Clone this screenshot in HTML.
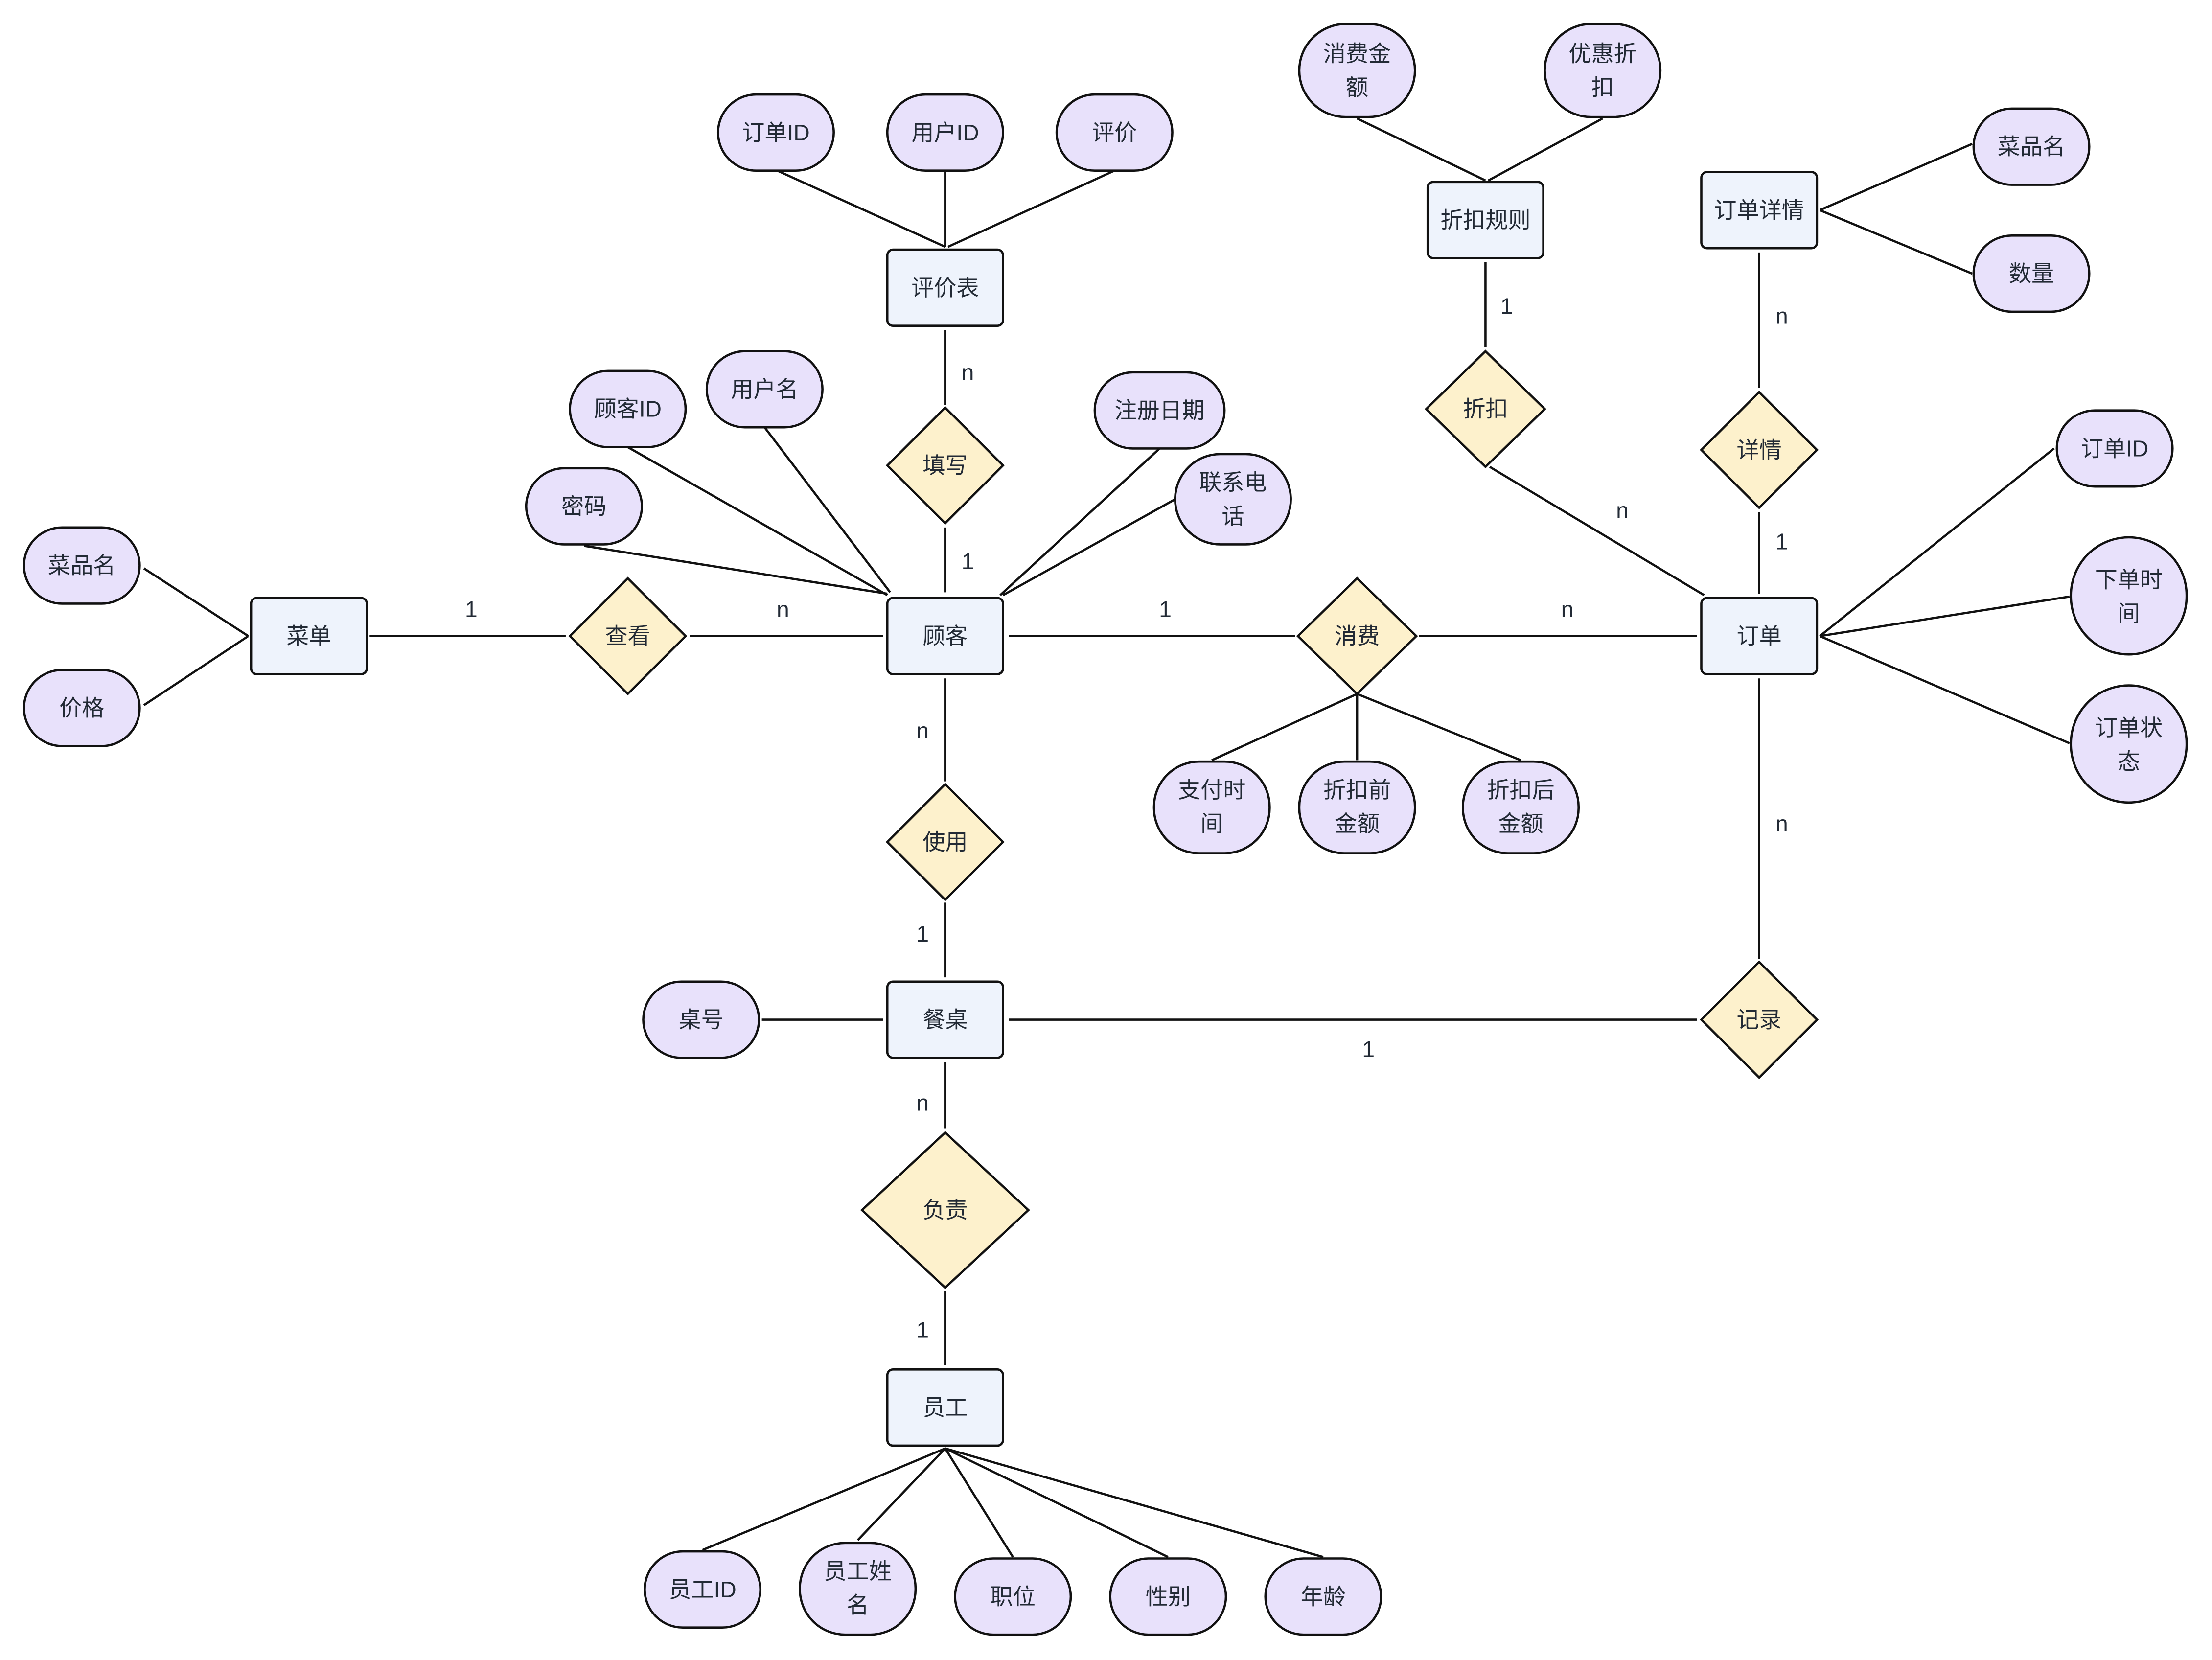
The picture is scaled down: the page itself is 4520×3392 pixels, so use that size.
<!DOCTYPE html>
<html><head><meta charset="utf-8"><style>
html,body{margin:0;padding:0;background:#fff;width:4520px;height:3392px;overflow:hidden}
svg{display:block}
text{font-family:"Liberation Sans","Noto Sans CJK SC",sans-serif;font-size:16px;fill:#222a35;text-anchor:middle;dominant-baseline:central}
.e{fill:#eef3fc;stroke:#111;stroke-width:1.6}
.a{fill:#e8e1fb;stroke:#111;stroke-width:1.6}
.d{fill:#fdf1cc;stroke:#111;stroke-width:1.6}
line{stroke:#111;stroke-width:1.6}
</style></head><body>
<svg width="4520" height="3392" viewBox="0 0 1568 1177" preserveAspectRatio="none" xmlns="http://www.w3.org/2000/svg">
<!-- lines -->
<g>
<line x1="551" y1="121" x2="670" y2="175"/><line x1="670" y1="121" x2="670" y2="175"/><line x1="790" y1="121" x2="672" y2="175"/>
<line x1="962" y1="84" x2="1053" y2="128"/><line x1="1136" y1="84" x2="1055" y2="128"/>
<line x1="1290" y1="149" x2="1398" y2="102"/><line x1="1290" y1="149" x2="1398" y2="194"/>
<line x1="445" y1="317" x2="629" y2="422"/><line x1="542" y1="303" x2="631" y2="420"/><line x1="414" y1="387" x2="629" y2="421"/>
<line x1="822" y1="318" x2="709" y2="422"/><line x1="833" y1="354" x2="711" y2="422"/>
<line x1="102" y1="403" x2="176" y2="451"/><line x1="102" y1="500" x2="176" y2="451"/>
<line x1="1456" y1="318" x2="1290" y2="451"/><line x1="1467" y1="423" x2="1290" y2="451"/><line x1="1467" y1="527" x2="1290" y2="451"/>
<line x1="962" y1="492" x2="859" y2="539"/><line x1="962" y1="492" x2="962" y2="539"/><line x1="962" y1="492" x2="1078" y2="539"/>
<line x1="670" y1="1027" x2="498" y2="1099"/><line x1="670" y1="1027" x2="608" y2="1092"/><line x1="670" y1="1027" x2="718" y2="1104"/><line x1="670" y1="1027" x2="828" y2="1104"/><line x1="670" y1="1027" x2="938" y2="1104"/>
<line x1="540" y1="723" x2="626" y2="723"/>
<line x1="262" y1="451" x2="401" y2="451"/><line x1="489" y1="451" x2="626" y2="451"/>
<line x1="715" y1="451" x2="918" y2="451"/><line x1="1006" y1="451" x2="1203" y2="451"/>
<line x1="670" y1="234" x2="670" y2="287"/><line x1="670" y1="374" x2="670" y2="420"/>
<line x1="1053" y1="186" x2="1053" y2="246"/><line x1="1056" y1="331" x2="1208" y2="422"/>
<line x1="1247" y1="179" x2="1247" y2="275"/><line x1="1247" y1="363" x2="1247" y2="421"/>
<line x1="670" y1="481" x2="670" y2="554"/><line x1="670" y1="640" x2="670" y2="693"/>
<line x1="715" y1="723" x2="1203" y2="723"/><line x1="1247" y1="481" x2="1247" y2="680"/>
<line x1="670" y1="753" x2="670" y2="800"/><line x1="670" y1="915" x2="670" y2="968"/>
</g>
<!-- cardinality labels -->
<text x="334" y="432">1</text><text x="555" y="432">n</text>
<text x="826" y="432">1</text><text x="1111" y="432">n</text>
<text x="686" y="264">n</text><text x="686" y="398">1</text>
<text x="1068" y="217">1</text><text x="1150" y="362">n</text>
<text x="1263" y="224">n</text><text x="1263" y="384">1</text>
<text x="654" y="518">n</text><text x="654" y="662">1</text>
<text x="970" y="744">1</text><text x="1263" y="584">n</text>
<text x="654" y="782">n</text><text x="654" y="943">1</text>
<!-- entities -->
<g>
<rect class="e" x="178" y="424" width="82" height="54" rx="4"/><text x="219" y="451">菜单</text>
<rect class="e" x="629" y="424" width="82" height="54" rx="4"/><text x="670" y="451">顾客</text>
<rect class="e" x="629" y="177" width="82" height="54" rx="4"/><text x="670" y="204">评价表</text>
<rect class="e" x="1012" y="129" width="82" height="54" rx="4"/><text x="1053" y="156">折扣规则</text>
<rect class="e" x="1206" y="122" width="82" height="54" rx="4"/><text x="1247" y="149">订单详情</text>
<rect class="e" x="1206" y="424" width="82" height="54" rx="4"/><text x="1247" y="451">订单</text>
<rect class="e" x="629" y="696" width="82" height="54" rx="4"/><text x="670" y="723">餐桌</text>
<rect class="e" x="629" y="971" width="82" height="54" rx="4"/><text x="670" y="998">员工</text>
</g>
<!-- diamonds -->
<g>
<polygon class="d" points="445,410 486,451 445,492 404,451"/><text x="445" y="451">查看</text>
<polygon class="d" points="670,289 711,330 670,371 629,330"/><text x="670" y="330">填写</text>
<polygon class="d" points="962,410 1004,451 962,492 920,451"/><text x="962" y="451">消费</text>
<polygon class="d" points="1053,249 1095,290 1053,331 1011,290"/><text x="1053" y="290">折扣</text>
<polygon class="d" points="1247,278 1288,319 1247,360 1206,319"/><text x="1247" y="319">详情</text>
<polygon class="d" points="670,556 711,597 670,638 629,597"/><text x="670" y="597">使用</text>
<polygon class="d" points="1247,682 1288,723 1247,764 1206,723"/><text x="1247" y="723">记录</text>
<polygon class="d" points="670,803 729,858 670,913 611,858"/><text x="670" y="858">负责</text>
</g>
<!-- attributes single line -->
<g>
<rect class="a" x="509" y="67" width="82" height="54" rx="27"/><text x="550" y="94">订单ID</text>
<rect class="a" x="629" y="67" width="82" height="54" rx="27"/><text x="670" y="94">用户ID</text>
<rect class="a" x="749" y="67" width="82" height="54" rx="27"/><text x="790" y="94">评价</text>
<rect class="a" x="1399" y="77" width="82" height="54" rx="27"/><text x="1440" y="104">菜品名</text>
<rect class="a" x="1399" y="167" width="82" height="54" rx="27"/><text x="1440" y="194">数量</text>
<rect class="a" x="404" y="263" width="82" height="54" rx="27"/><text x="445" y="290">顾客ID</text>
<rect class="a" x="501" y="249" width="82" height="54" rx="27"/><text x="542" y="276">用户名</text>
<rect class="a" x="373" y="332" width="82" height="54" rx="27"/><text x="414" y="359">密码</text>
<rect class="a" x="776" y="264" width="92" height="54" rx="27"/><text x="822" y="291">注册日期</text>
<rect class="a" x="17" y="374" width="82" height="54" rx="27"/><text x="58" y="401">菜品名</text>
<rect class="a" x="17" y="475" width="82" height="54" rx="27"/><text x="58" y="502">价格</text>
<rect class="a" x="1458" y="291" width="82" height="54" rx="27"/><text x="1499" y="318">订单ID</text>
<rect class="a" x="456" y="696" width="82" height="54" rx="27"/><text x="497" y="723">桌号</text>
<rect class="a" x="457" y="1100" width="82" height="54" rx="27"/><text x="498" y="1127">员工ID</text>
<rect class="a" x="677" y="1105" width="82" height="54" rx="27"/><text x="718" y="1132">职位</text>
<rect class="a" x="787" y="1105" width="82" height="54" rx="27"/><text x="828" y="1132">性别</text>
<rect class="a" x="897" y="1105" width="82" height="54" rx="27"/><text x="938" y="1132">年龄</text>
</g>
<!-- attributes two line -->
<g>
<rect class="a" x="921" y="17" width="82" height="66" rx="33"/><text x="962" y="38">消费金</text><text x="962" y="62">额</text>
<rect class="a" x="1095" y="17" width="82" height="66" rx="33"/><text x="1136" y="38">优惠折</text><text x="1136" y="62">扣</text>
<rect class="a" x="833" y="322" width="82" height="64" rx="32"/><text x="874" y="342">联系电</text><text x="874" y="366">话</text>
<rect class="a" x="1468" y="381" width="82" height="83" rx="41"/><text x="1509" y="411">下单时</text><text x="1509" y="435">间</text>
<rect class="a" x="1468" y="486" width="82" height="83" rx="41"/><text x="1509" y="516">订单状</text><text x="1509" y="540">态</text>
<rect class="a" x="818" y="540" width="82" height="65" rx="32"/><text x="859" y="560">支付时</text><text x="859" y="584">间</text>
<rect class="a" x="921" y="540" width="82" height="65" rx="32"/><text x="962" y="560">折扣前</text><text x="962" y="584">金额</text>
<rect class="a" x="1037" y="540" width="82" height="65" rx="32"/><text x="1078" y="560">折扣后</text><text x="1078" y="584">金额</text>
<rect class="a" x="567" y="1094" width="82" height="65" rx="32"/><text x="608" y="1114">员工姓</text><text x="608" y="1138">名</text>
</g>
</svg>
</body></html>
